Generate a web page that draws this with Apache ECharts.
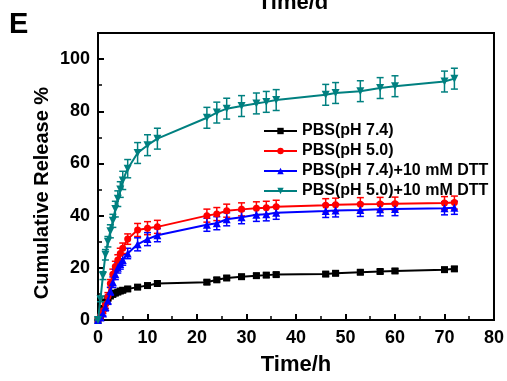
<!DOCTYPE html>
<html><head><meta charset="utf-8">
<script src="https://cdn.jsdelivr.net/npm/echarts@6/dist/echarts.min.js"></script>
<style>html,body{margin:0;padding:0;background:#fff}#c{width:507px;height:381px}</style>
</head><body><div id="c"></div>
<script>
// Sampling times (h)
const times = [0, 0.5, 1, 1.5, 2, 2.5, 3, 3.5, 4, 4.5, 5, 6, 8, 10, 12, 22, 24, 26, 29, 32, 34, 36, 46, 48, 53, 57, 60, 70, 72];
const seriesNames = ['PBS(pH 7.4)', 'PBS(pH 5.0)', 'PBS(pH 7.4)+10 mM DTT', 'PBS(pH 5.0)+10 mM DTT'];
// Cumulative release (%)
const pbs74 = [0, 2, 4.4, 6.9, 8.3, 9.2, 9.8, 10.3, 10.7, 11.1, 11.4, 11.9, 12.6, 13.2, 14.0, 14.5, 15.4, 16.1, 16.6, 17.0, 17.2, 17.4, 17.6, 17.9, 18.3, 18.6, 18.8, 19.3, 19.6];
const pbs50 = [0, 1.5, 3.5, 6, 9, 14, 17.5, 20.5, 23, 25.5, 27.5, 31, 34.5, 35.2, 35.7, 40, 40.6, 41.9, 42.4, 42.8, 43, 43.4, 44, 44.2, 44.4, 44.5, 44.6, 44.8, 45];
const pbs74dtt = [0, 1, 2.5, 5, 7.5, 11, 14.5, 17.5, 20, 21.5, 23, 25.5, 29, 31, 32.5, 36.5, 37.1, 38.6, 39.4, 40.3, 40.5, 41.1, 41.8, 42, 42.2, 42.4, 42.5, 42.8, 43];
const pbs50dtt = [0, 8, 17, 25, 30, 34, 38, 42.5, 46.5, 50, 53.5, 58, 64, 67, 69.5, 77.5, 79.5, 81, 82, 83, 83.6, 84.3, 86.3, 87, 87.7, 88.9, 89.6, 91.4, 92.5];
// Error bars (±)
const err74 = [0, 0.5, 0.5, 0.6, 0.6, 0.6, 0.7, 0.7, 0.7, 0.7, 0.8, 0.8, 0.8, 0.8, 0.8, 0.8, 0.8, 0.8, 0.8, 0.8, 0.8, 0.8, 0.8, 0.8, 0.8, 0.8, 0.8, 0.8, 0.8];
const err50 = [0, 1, 1, 1.5, 1.5, 1.5, 2, 2, 2, 2, 2, 2, 2.5, 2.5, 2.5, 2.5, 2.5, 2.5, 2.5, 2.5, 2.5, 2.5, 2.5, 2.5, 2.5, 2.5, 2.5, 2.5, 2.5];
const err74dtt = [0, 1, 1, 1.5, 1.5, 1.5, 2, 2, 2, 2, 2, 2, 2.5, 2.5, 2.5, 2.5, 2.5, 2.5, 2.5, 2.5, 2.5, 2.5, 2.5, 2.5, 2.5, 2.5, 2.5, 2.5, 2.5];
const err50dtt = [0, 1, 1.5, 2, 2, 2.5, 2.5, 3, 3, 3, 3.5, 3.5, 4, 4, 4, 4, 4, 4, 4, 4, 4, 4, 4, 4, 4, 4, 4, 4, 4];
const xTicks = [0, 10, 20, 30, 40, 50, 60, 70, 80];
const yTicks = [0, 20, 40, 60, 80, 100];

const colors = ['#000000', '#ff0000', '#0000ff', '#008080'];
const symbols = ['rect', 'circle', 'triangle', 'path://M0,0 L10,0 L5,9 Z'];
const symSizes = [7, 7, 8, 8];
const vals = [pbs74, pbs50, pbs74dtt, pbs50dtt];
const errs = [err74, err50, err74dtt, err50dtt];

const FONT = '"Liberation Sans", Arial, sans-serif';
const series = [];
vals.forEach((v, i) => {
  series.push({
    name: seriesNames[i] + ' err', type: 'custom', z: 2 + i,
    data: times.map((t, k) => [t, v[k], errs[i][k]]),
    encode: { x: 0, y: 1 },
    silent: true,
    renderItem: function (params, api) {
      const x = api.value(0), y = api.value(1), e = api.value(2);
      const top = api.coord([x, y + e]);
      const bot = api.coord([x, y - e]);
      const st = { stroke: colors[i], lineWidth: 1.5 };
      const cw = 3.5;
      return { type: 'group', children: [
        { type: 'line', shape: { x1: top[0], y1: top[1], x2: bot[0], y2: bot[1] }, style: st },
        { type: 'line', shape: { x1: top[0] - cw, y1: top[1], x2: top[0] + cw, y2: top[1] }, style: st },
        { type: 'line', shape: { x1: bot[0] - cw, y1: bot[1], x2: bot[0] + cw, y2: bot[1] }, style: st }
      ]};
    }
  });
  series.push({
    name: seriesNames[i], type: 'line', z: 3 + i,
    data: times.map((t, k) => [t, v[k]]),
    symbol: symbols[i], symbolSize: symSizes[i], showSymbol: true,
    lineStyle: { color: colors[i], width: 2 },
    itemStyle: { color: colors[i], borderWidth: 0 },
    animation: false
  });
});

const chart = echarts.init(document.getElementById('c'), null, { renderer: 'canvas' });
chart.setOption({
  animation: false,
  backgroundColor: '#fff',
  grid: { left: 98, right: 12, top: 33, bottom: 56, show: true, borderColor: '#000', borderWidth: 2, backgroundColor: 'transparent' },
  legend: {
    data: seriesNames, orient: 'vertical', left: 258, top: 118,
    itemWidth: 33, itemHeight: 8, itemGap: 4,
    textStyle: { fontFamily: FONT, fontWeight: 'bold', fontSize: 16, color: '#000', lineHeight: 16 }
  },
  xAxis: {
    type: 'value', min: 0, max: 80, interval: 10,
    name: 'Time/h', nameLocation: 'middle', nameGap: 34,
    nameTextStyle: { fontFamily: FONT, fontWeight: 'bold', fontSize: 22, color: '#000' },
    axisLine: { lineStyle: { color: '#000', width: 2 } },
    axisTick: { inside: true, length: 6, lineStyle: { color: '#000', width: 2 } },
    minorTick: { show: true, splitNumber: 2, length: 4, lineStyle: { color: '#000', width: 1.5 } },
    axisLabel: { fontFamily: FONT, fontWeight: 'bold', fontSize: 18, color: '#000', margin: 9,
      formatter: v => xTicks.includes(v) ? String(v) : '' },
    splitLine: { show: false }
  },
  yAxis: {
    type: 'value', min: 0, max: 110, interval: 20,
    axisLine: { lineStyle: { color: '#000', width: 2 } },
    axisTick: { inside: true, length: 6, lineStyle: { color: '#000', width: 2 } },
    minorTick: { show: true, splitNumber: 2, length: 4, lineStyle: { color: '#000', width: 1.5 } },
    axisLabel: { fontFamily: FONT, fontWeight: 'bold', fontSize: 18, color: '#000', margin: 8,
      formatter: v => yTicks.includes(v) ? String(v) : '' },
    splitLine: { show: false }
  },
  graphic: [
    { type: 'text', left: 9, top: 10, style: { text: 'E', font: 'bold 29px ' + FONT, fill: '#000' } },
    { type: 'text', x: 293, y: 14, style: { text: 'Time/d', font: 'bold 22px ' + FONT, fill: '#000', align: 'center', verticalAlign: 'bottom' } },
    { type: 'text', x: 42, y: 193, rotation: Math.PI / 2, style: { text: 'Cumulative Release %', font: 'bold 20px ' + FONT, fill: '#000', align: 'center', verticalAlign: 'middle' } }
  ],
  series: series
});
</script></body></html>
